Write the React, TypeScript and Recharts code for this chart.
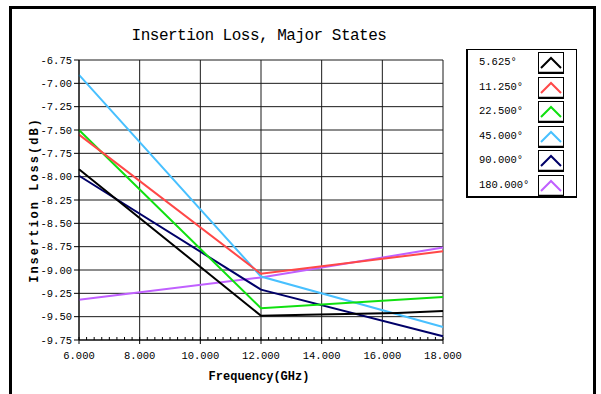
import React from 'react';
import { LineChart, Line, XAxis, YAxis, CartesianGrid } from 'recharts';

// phase states, one line per state
const stateNames = ['5.625°', '11.250°', '22.500°', '45.000°', '90.000°', '180.000°'];
const stateColors = ['#000000', '#ff4848', '#10e010', '#48c0ff', '#000068', '#c060ff'];

const freqMain = [6, 12, 18];
const freqBlack = [6, 12, 13.5, 16.5, 18];

const loss5625 = [-7.92, -9.49, -9.48, -9.46, -9.44];
const loss11250 = [-7.55, -9.04, -8.8];
const loss22500 = [-7.5, -9.41, -9.29];
const loss45000 = [-6.91, -9.07, -9.61];
const loss90000 = [-7.99, -9.21, -9.71];
const loss180000 = [-9.32, -9.08, -8.76];

const xTicks = [6, 8, 10, 12, 14, 16, 18];
const yTicks = [-9.75, -9.5, -9.25, -9, -8.75, -8.5, -8.25, -8, -7.75, -7.5, -7.25, -7, -6.75];

// minor ticks every 0.25 GHz along the bottom axis
const quarterTicks = Array.from({ length: 49 }, (_, i) => 6 + i * 0.25);

const toPoints = (freqs: number[], vals: number[]) => freqs.map((f, i) => ({ f, v: vals[i] }));

const series = [
  { name: stateNames[0], color: stateColors[0], data: toPoints(freqBlack, loss5625) },
  { name: stateNames[1], color: stateColors[1], data: toPoints(freqMain, loss11250) },
  { name: stateNames[2], color: stateColors[2], data: toPoints(freqMain, loss22500) },
  { name: stateNames[3], color: stateColors[3], data: toPoints(freqMain, loss45000) },
  { name: stateNames[4], color: stateColors[4], data: toPoints(freqMain, loss90000) },
  { name: stateNames[5], color: stateColors[5], data: toPoints(freqMain, loss180000) },
];

// draw order so the crossings look like the original
const drawOrder = [5, 4, 3, 2, 1, 0];

const mono = '"Liberation Mono", "DejaVu Sans Mono", monospace';

const XTick = (props: any) => {
  const { x, y, payload } = props;
  const v = payload.value as number;
  const major = xTicks.includes(v);
  if (!major) {
    return <line x1={x} x2={x} y1={y} y2={y - 3} stroke="#000" strokeWidth={1} />;
  }
  return (
    <g>
      <line x1={x} x2={x} y1={y - 3} y2={y + 4} stroke="#000" strokeWidth={1} />
      <text x={x} y={y + 12} dy="0.71em" textAnchor="middle" fontSize={10.5} fontFamily={mono} fill="#000">
        {v.toFixed(3)}
      </text>
    </g>
  );
};

export default function App() {
  return (
    <div style={{ position: 'absolute', left: 0, top: 0, width: 601, height: 394, background: '#fff', overflow: 'hidden' }}>
      {/* outer frame */}
      <div style={{ position: 'absolute', left: 9, top: 6, width: 587, height: 400, border: '3px solid #000', boxSizing: 'border-box' }} />

      <div style={{ position: 'absolute', left: 0, top: 0 }}>
        <LineChart width={601} height={394} margin={{ top: 60, right: 158, left: 19, bottom: 24 }}>
          <CartesianGrid stroke="#1a1a1a" horizontalValues={yTicks} verticalValues={xTicks} />
          <XAxis
            dataKey="f"
            type="number"
            domain={[6, 18]}
            ticks={quarterTicks}
            interval={0}
            tick={<XTick />}
            tickLine={false}
            tickSize={0}
            tickMargin={0}
            height={30}
            axisLine={{ stroke: '#000' }}
            allowDuplicatedCategory={false}
          />
          <YAxis
            type="number"
            domain={[-9.75, -6.75]}
            ticks={yTicks}
            interval={0}
            width={60}
            tickSize={5}
            tickMargin={2}
            tickFormatter={(v: number) => v.toFixed(2)}
            tick={{ fontSize: 10.5, fontFamily: mono, fill: '#000' }}
            tickLine={{ stroke: '#000' }}
            axisLine={{ stroke: '#000' }}
          />
          {drawOrder.map((i) => (
            <Line
              key={series[i].name}
              data={series[i].data}
              dataKey="v"
              name={series[i].name}
              type="linear"
              stroke={series[i].color}
              strokeWidth={2}
              dot={false}
              isAnimationActive={false}
            />
          ))}
        </LineChart>
      </div>

      {/* title */}
      <div style={{ position: 'absolute', left: 59, width: 400, top: 27, textAlign: 'center', fontFamily: mono, fontSize: 16, letterSpacing: -0.5, whiteSpace: 'nowrap' }}>
        Insertion Loss, Major States
      </div>

      {/* x axis title */}
      <div style={{ position: 'absolute', left: 159, width: 200, top: 370, textAlign: 'center', fontFamily: mono, fontSize: 12, fontWeight: 'bold', whiteSpace: 'nowrap' }}>
        Frequency(GHz)
      </div>

      {/* y axis title */}
      <div
        style={{
          position: 'absolute',
          left: 35,
          top: 200,
          transform: 'translate(-50%, -50%) rotate(-90deg)',
          fontFamily: mono,
          fontSize: 12,
          fontWeight: 'bold',
          letterSpacing: 2,
          whiteSpace: 'nowrap',
        }}
      >
        Insertion Loss(dB)
      </div>

      {/* legend */}
      <div
        style={{
          position: 'absolute',
          left: 466,
          top: 49,
          width: 111,
          height: 149,
          borderTop: '1px solid #000',
          borderRight: '1px solid #000',
          borderLeft: '2px solid #000',
          borderBottom: '2px solid #000',
          boxSizing: 'border-box',
        }}
      >
        {series.map((s, i) => (
          <div key={s.name} style={{ position: 'absolute', left: 0, top: 2 + i * 24.6, width: 108, height: 22 }}>
            <div style={{ position: 'absolute', left: 11, top: 4, fontFamily: mono, fontSize: 10.5, whiteSpace: 'nowrap' }}>{s.name}</div>
            <svg width={26} height={22} style={{ position: 'absolute', left: 70, top: 0 }}>
              <rect x={0.5} y={0.5} width={25} height={21} fill="#fff" stroke="#000" />
              <line x1={1} x2={25} y1={20.5} y2={20.5} stroke="#000" strokeWidth={1.5} />
              <polyline points="3,16 13,6 23,16" fill="none" stroke={s.color} strokeWidth={2} />
            </svg>
          </div>
        ))}
      </div>
    </div>
  );
}
